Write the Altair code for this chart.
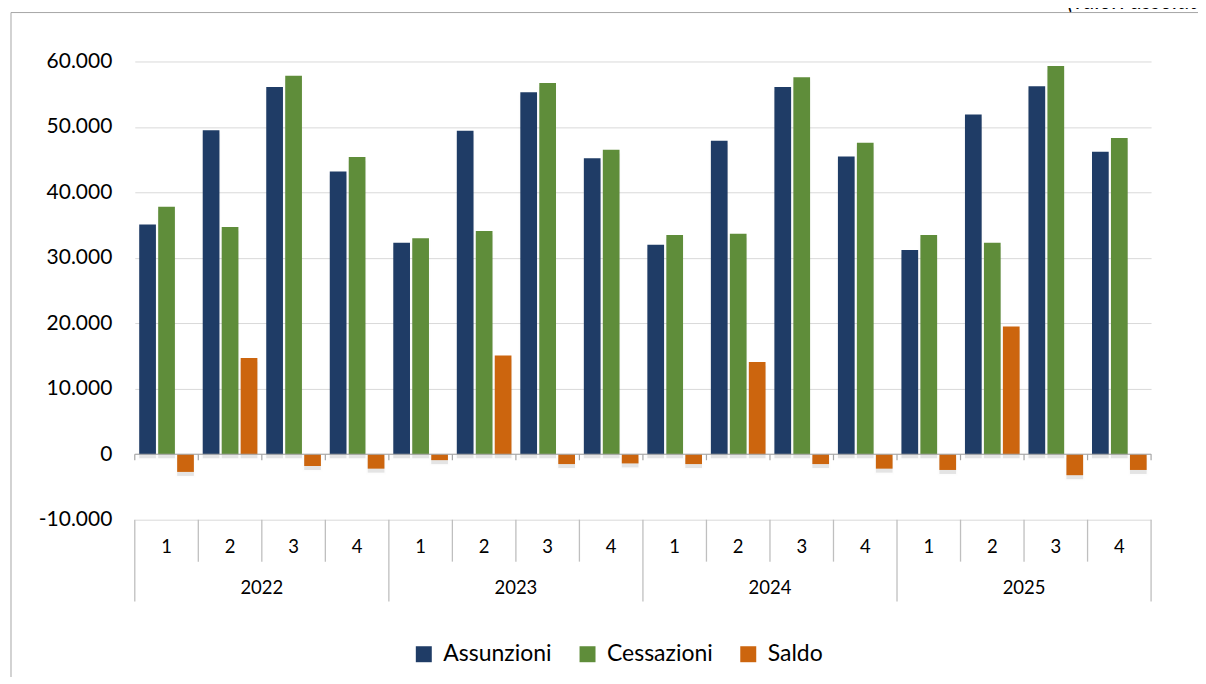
import altair as alt
import pandas as pd

# ---- data ----
years = ["2022", "2023", "2024", "2025"]
quarters = ["1", "2", "3", "4"]
series = ["Assunzioni", "Cessazioni", "Saldo"]
colors = ["#1F3C66", "#5F8D3A", "#CC650E"]

assunzioni = [35100, 49500, 56100, 43200,
              32300, 49400, 55300, 45200,
              32000, 47900, 56100, 45500,
              31200, 51900, 56200, 46200]
cessazioni = [37800, 34700, 57800, 45400,
              33000, 34100, 56700, 46500,
              33500, 33700, 57600, 47600,
              33500, 32300, 59300, 48300]
saldo = [-2700, 14700, -1800, -2200,
         -900, 15100, -1500, -1400,
         -1500, 14100, -1500, -2200,
         -2400, 19500, -3200, -2400]

y_ticks = [-10000, 0, 10000, 20000, 30000, 40000, 50000, 60000]
title_text = "(valori assoluti)"

# ---- layout ----
W, H = 1018, 459
ymin, ymax = -10000, 60000
zero_px = H * ymax / (ymax - ymin)
FONT = "Lato"
TABLE = "#BFBFBF"

keys = [f"{y}-{q}" for y in years for q in quarters]
rows = []
for i, k in enumerate(keys):
    for s, vals in zip(series, [assunzioni, cessazioni, saldo]):
        rows.append({"key": k, "serie": s, "valore": vals[i]})
bars_df = pd.DataFrame(rows)
groups_df = pd.DataFrame({
    "key": keys,
    "year": [y for y in years for q in quarters],
    "quarter": [q for y in years for q in quarters],
})
one = pd.DataFrame({"a": [0]})


def xk(bp=0.5):
    return alt.X("key:N", sort=keys,
                 scale=alt.Scale(domain=keys, paddingInner=0, paddingOuter=0),
                 axis=None, bandPosition=bp)


yscale = alt.Scale(domain=[ymin, ymax], nice=False, zero=False)
xoff = alt.XOffset("serie:N", sort=series,
                   scale=alt.Scale(domain=series, paddingInner=0.12, paddingOuter=0.234))

label_expr = "replace(replace(format(datum.value, ','), /,/g, '.'), '\u2212', '-')"
y_axis = alt.Axis(values=y_ticks, labelExpr=label_expr, grid=True,
                  gridColor="#D9D9D9", gridWidth=1, domain=False, ticks=False,
                  labelFontSize=21, labelFont=FONT, labelColor="#000000",
                  labelPadding=23, title=None)

shadow = alt.Chart(bars_df).mark_bar(
    color="#000000", opacity=0.10, yOffset=4, y2Offset=4,
    stroke="#000000", strokeWidth=3, strokeOpacity=0.05,
).encode(
    x=xk(), xOffset=xoff,
    y=alt.Y("valore:Q", scale=yscale, axis=y_axis),
)

bars = alt.Chart(bars_df).mark_bar().encode(
    x=xk(),
    xOffset=xoff,
    y=alt.Y("valore:Q", scale=yscale, axis=y_axis),
    color=alt.Color("serie:N", sort=series,
                    scale=alt.Scale(domain=series, range=colors),
                    legend=alt.Legend(orient="none", legendX=278, legendY=582,
                                      direction="horizontal", title=None,
                                      symbolType="square", symbolSize=256,
                                      symbolStrokeWidth=0, labelFontSize=23,
                                      labelFont=FONT, labelColor="#000000",
                                      columnPadding=24, labelOffset=8)),
)

zero_line = alt.Chart(one).mark_rule(color="#A6A6A6", strokeWidth=1.2).encode(
    y=alt.datum(0, scale=yscale))

end_df = groups_df.tail(1)

zero_ticks = alt.Chart(groups_df).mark_rule(color="#A6A6A6", strokeWidth=1.2).encode(
    x=xk(0), y=alt.value(zero_px), y2=alt.value(zero_px + 6))
zero_tick_end = alt.Chart(end_df).mark_rule(color="#A6A6A6", strokeWidth=1.2).encode(
    x=xk(1), y=alt.value(zero_px), y2=alt.value(zero_px + 6))

q_sep = alt.Chart(groups_df[groups_df.quarter != "1"]).mark_rule(color=TABLE, strokeWidth=1.3).encode(
    x=xk(0), y=alt.value(H), y2=alt.value(H + 42))
y_sep = alt.Chart(groups_df[groups_df.quarter == "1"]).mark_rule(color=TABLE, strokeWidth=1.3).encode(
    x=xk(0), y=alt.value(H), y2=alt.value(H + 82))
y_sep_end = alt.Chart(end_df).mark_rule(color=TABLE, strokeWidth=1.3).encode(
    x=xk(1), y=alt.value(H), y2=alt.value(H + 82))

q_labels = alt.Chart(groups_df).mark_text(font=FONT, fontSize=18.5, color="#000000",
                                          baseline="middle").encode(
    x=xk(), y=alt.value(H + 27), text="quarter:N")
y_labels = alt.Chart(groups_df[groups_df.quarter == "2"]).mark_text(
    font=FONT, fontSize=18.5, color="#000000", baseline="middle").encode(
    x=xk(1), y=alt.value(H + 68), text="year:N")

border_top = alt.Chart(one).mark_rule(color="#A6A6A6", strokeWidth=1).encode(
    x=alt.value(-124), x2=alt.value(1200), y=alt.value(-49))
border_left = alt.Chart(one).mark_rule(color="#A6A6A6", strokeWidth=1).encode(
    x=alt.value(-124), y=alt.value(-49), y2=alt.value(700))

title = alt.Chart(one).mark_text(text=title_text, font=FONT, fontStyle="italic",
                                 fontSize=23, align="left", baseline="top",
                                 color="#000000").encode(
    x=alt.value(934), y=alt.value(-71))

chart = alt.layer(
    border_top, border_left, title,
    shadow, bars, zero_line, zero_ticks, zero_tick_end,
    q_sep, y_sep, y_sep_end, q_labels, y_labels,
).properties(
    width=W, height=H,
    padding={"left": 2, "top": -18, "right": -136, "bottom": -85},
    background="white",
).configure_view(stroke=None)

chart.save("out.html", embed_options={"renderer": "svg", "actions": False})
